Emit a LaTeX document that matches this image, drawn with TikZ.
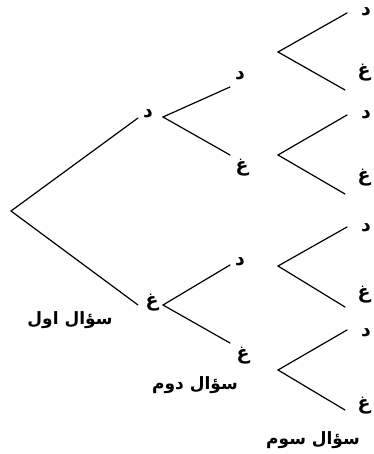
\documentclass[tikz,border=0pt]{standalone}
\usepackage{fontspec}
\newfontfamily\arabicfont[Script=Arabic]{DejaVu Sans}
\TeXXeTstate=1
\begin{document}
\begin{tikzpicture}[x=1pt,y=-1pt,
  branch/.style={line width=1.2pt,line cap=round},
  lbl/.style={inner sep=0pt,font=\arabicfont\bfseries\fontsize{19}{21}\selectfont},
  qtitle/.style={inner sep=0pt,font=\arabicfont\bfseries\fontsize{17}{19}\selectfont}]
\useasboundingbox (0,0) rectangle (373,454);
% vertices
\coordinate (r) at (11,211);
\coordinate (e1u) at (138,118);
\coordinate (e1d) at (138,305);
\coordinate (v2u) at (163,117);
\coordinate (v2d) at (163,305);
\coordinate (e2uu) at (230,87);
\coordinate (e2ud) at (230,155);
\coordinate (e2du) at (230,265);
\coordinate (e2dd) at (230,343);
\coordinate (v3a) at (278,52);
\coordinate (v3b) at (278,155);
\coordinate (v3c) at (278,266);
\coordinate (v3d) at (278,370);
\coordinate (e3au) at (347,13);  \coordinate (e3ad) at (345,90);
\coordinate (e3bu) at (347,115); \coordinate (e3bd) at (345,194);
\coordinate (e3cu) at (347,227); \coordinate (e3cd) at (345,307);
\coordinate (e3du) at (347,330); \coordinate (e3dd) at (345,410);
% labels
\node[lbl] (l1d) at (148,114) {\beginR د\endR};
\node[lbl] (l1g) at (152,303) {\beginR غ\endR};
\node[lbl] (l2a) at (240,76) {\beginR د\endR};
\node[lbl] (l2b) at (242,168) {\beginR غ\endR};
\node[lbl] (l2c) at (240,262) {\beginR د\endR};
\node[lbl] (l2d) at (243,356) {\beginR غ\endR};
\node[lbl] (l3a) at (366,12) {\beginR د\endR};
\node[lbl] (l3b) at (364,73) {\beginR غ\endR};
\node[lbl] (l3c) at (366,115) {\beginR د\endR};
\node[lbl] (l3d) at (364,178) {\beginR غ\endR};
\node[lbl] (l3e) at (366,228) {\beginR د\endR};
\node[lbl] (l3f) at (364,295) {\beginR غ\endR};
\node[lbl] (l3g) at (366,333) {\beginR د\endR};
\node[lbl] (l3h) at (364,406) {\beginR غ\endR};
\node[qtitle] (q1) at (70,320) {\beginR سؤال اول\endR};
\node[qtitle] (q2) at (195,385) {\beginR سؤال دوم\endR};
\node[qtitle] (q3) at (313,440) {\beginR سؤال سوم\endR};
% branches
\draw[branch] (e1u) -- (r) -- (e1d);
\draw[branch] (e2uu) -- (v2u) -- (e2ud);
\draw[branch] (e2du) -- (v2d) -- (e2dd);
\draw[branch] (e3au) -- (v3a) -- (e3ad);
\draw[branch] (e3bu) -- (v3b) -- (e3bd);
\draw[branch] (e3cu) -- (v3c) -- (e3cd);
\draw[branch] (e3du) -- (v3d) -- (e3dd);
\end{tikzpicture}
\end{document}
